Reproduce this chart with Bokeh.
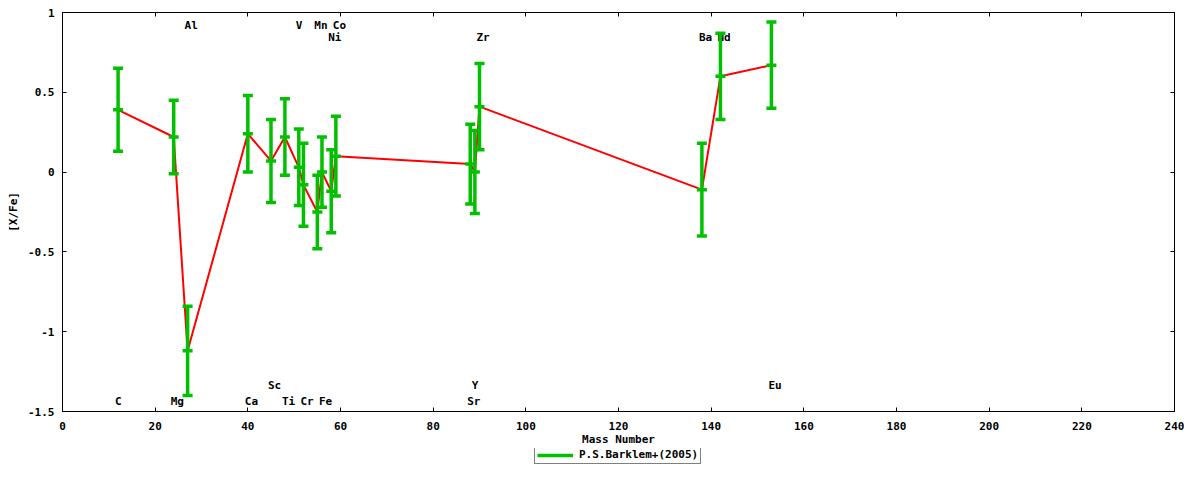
from bokeh.plotting import figure
from bokeh.layouts import column
from bokeh.models import Range1d, FixedTicker, LinearAxis, Legend, LegendItem, ColumnDataSource
from bokeh.core.properties import value
from bokeh.embed import file_html
from bokeh.resources import INLINE

# ---- data ----
elements = ["C", "Mg", "Al", "Ca", "Sc", "Ti", "V", "Cr", "Mn", "Fe", "Ni", "Co",
            "Sr", "Y", "Zr", "Ba", "Nd", "Eu"]
mass = [12, 24, 27, 40, 45, 48, 51, 52, 55, 56, 58, 59, 88, 89, 90, 138, 142, 153]
xfe = [0.39, 0.22, -1.12, 0.24, 0.07, 0.22, 0.03, -0.08, -0.25, 0.00, -0.12, 0.10,
       0.05, 0.00, 0.41, -0.11, 0.60, 0.67]
err = [0.26, 0.23, 0.28, 0.24, 0.26, 0.24, 0.24, 0.26, 0.23, 0.22, 0.26, 0.25,
       0.25, 0.26, 0.27, 0.29, 0.27, 0.27]
label_y = [-1.44, -1.44, 0.92, -1.44, -1.34, -1.44, 0.92, -1.44, 0.92, -1.44, 0.845, 0.92,
           -1.44, -1.34, 0.845, 0.845, 0.845, -1.34]
series_name = "P.S.Barklem+(2005)"

x_ticks = [0, 20, 40, 60, 80, 100, 120, 140, 160, 180, 200, 220, 240]
y_ticks = [-1.5, -1, -0.5, 0, 0.5, 1]
y_tick_labels = ["-1.5", "-1", "-0.5", "0", "0.5", "1"]

FONT = "DejaVu Sans Mono"
GREEN = "#00c000"

lo = [v - e for v, e in zip(xfe, err)]
hi = [v + e for v, e in zip(xfe, err)]
src = ColumnDataSource(dict(mass=mass, xfe=xfe, lo=lo, hi=hi,
                            name=elements, ly=label_y))

p = figure(width=1184, height=448, output_backend="svg", toolbar_location=None,
           x_range=Range1d(0, 240), y_range=Range1d(-1.5, 1),
           min_border_left=62, min_border_right=10, min_border_top=12, min_border_bottom=36)
p.background_fill_color = "white"
p.border_fill_color = "white"
p.outline_line_color = "black"
p.outline_line_width = 1
p.xgrid.visible = False
p.ygrid.visible = False


def style_axis(ax, labels=True):
    ax.major_tick_in = 4
    ax.major_tick_out = 0
    ax.minor_tick_line_color = None
    ax.axis_line_color = "black"
    ax.major_tick_line_color = "black"
    ax.major_label_text_font = FONT
    ax.major_label_text_font_style = "bold"
    ax.major_label_text_font_size = "11px" if labels else "0px"
    ax.major_label_text_color = "black"
    ax.axis_label_text_font = FONT
    ax.axis_label_text_font_style = "bold"
    ax.axis_label_text_font_size = "11px"
    ax.axis_label_text_color = "black"
    if not labels:
        ax.major_label_standoff = 0


style_axis(p.xaxis[0])
style_axis(p.yaxis[0])
p.xaxis[0].ticker = FixedTicker(ticks=x_ticks)
p.yaxis[0].ticker = FixedTicker(ticks=y_ticks)
p.yaxis[0].major_label_overrides = {t: l for t, l in zip(y_ticks, y_tick_labels)}
p.xaxis[0].axis_label = "Mass Number"
p.yaxis[0].axis_label = "[X/Fe]"
p.xaxis[0].major_label_standoff = 10
p.xaxis[0].axis_label_standoff = 0
p.yaxis[0].major_label_standoff = 8
p.yaxis[0].axis_label_standoff = 5

top_ax = LinearAxis(ticker=FixedTicker(ticks=x_ticks))
right_ax = LinearAxis(ticker=FixedTicker(ticks=y_ticks))
style_axis(top_ax, labels=False)
style_axis(right_ax, labels=False)
p.add_layout(top_ax, "above")
p.add_layout(right_ax, "right")

# element labels (under the bars)
p.text(x="mass", y="ly", text="name", source=src, text_font=value(FONT),
       text_font_style="bold", text_font_size="11px", text_color="black",
       text_align="left", text_baseline="middle", x_offset=-3)

# connecting red line
p.line(x="mass", y="xfe", source=src, line_color="#ff0000", line_width=2)

# error bars
p.segment(x0="mass", y0="lo", x1="mass", y1="hi", source=src,
          line_color=GREEN, line_width=3.5)
for col in ["lo", "hi", "xfe"]:
    p.scatter(x="mass", y=col, source=src, marker="dash", size=10,
              line_color=GREEN, line_width=3.5)

# ---- legend strip below the plot (its ranges keep the series out of view) ----
lf = figure(width=1184, height=16, output_backend="svg", toolbar_location=None,
            x_axis_location=None, y_axis_location=None, min_border=0,
            x_range=Range1d(-2, -1), y_range=Range1d(-3, -2))
lf.outline_line_color = None
lf.xgrid.visible = False
lf.ygrid.visible = False
lf.background_fill_color = "white"
lf.border_fill_color = "white"
leg_seg = lf.segment(x0="mass", y0="lo", x1="mass", y1="hi", source=src,
                     line_color=GREEN, line_width=3.5)

legend = Legend(items=[LegendItem(label=series_name, renderers=[leg_seg])],
                location=(472, 0), orientation="horizontal")
legend.border_line_color = "black"
legend.border_line_width = 1
legend.padding = 2
legend.margin = 0
legend.spacing = 0
legend.label_standoff = 6
legend.glyph_width = 36
legend.glyph_height = 10
legend.label_height = 11
legend.label_text_font = FONT
legend.label_text_font_style = "bold"
legend.label_text_font_size = "11px"
legend.label_text_color = "black"
legend.background_fill_color = "white"
lf.add_layout(legend)

layout = column(p, lf, spacing=0)
open("out.html", "w").write(file_html(layout, INLINE))
